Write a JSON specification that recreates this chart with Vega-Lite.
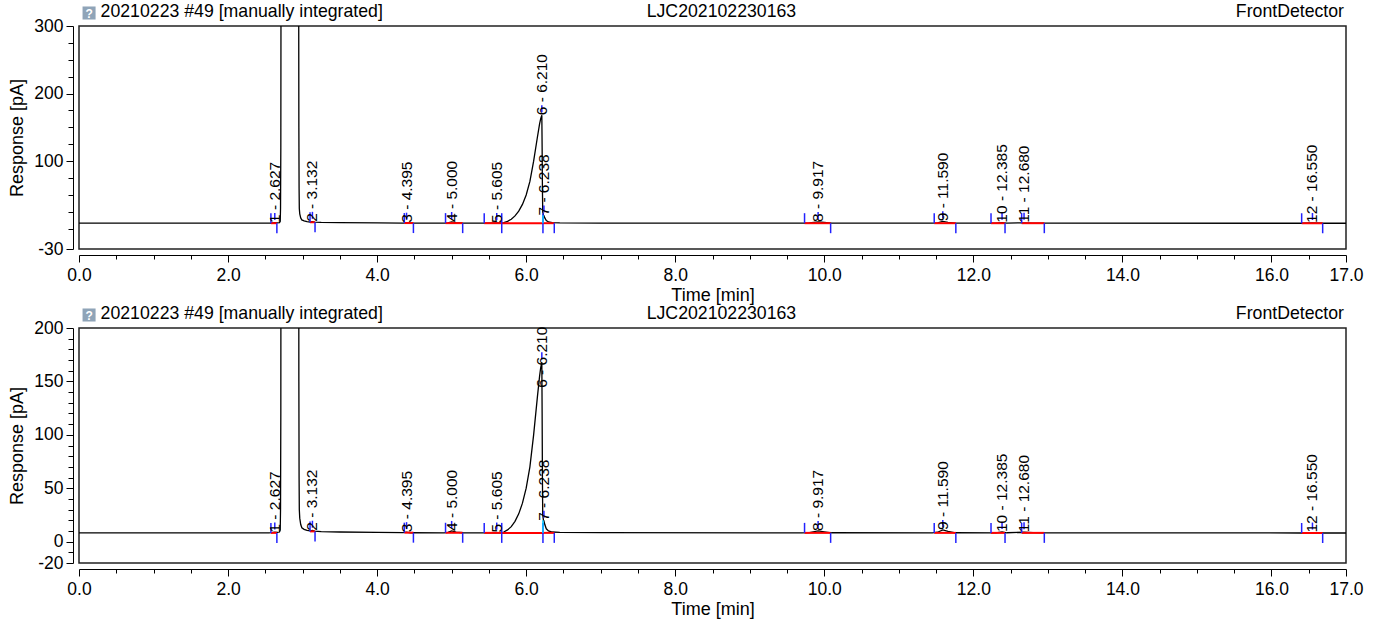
{
  "$schema": "https://vega.github.io/schema/vega-lite/v6.json",
  "background": "white",
  "padding": {"left": 8, "top": 2, "right": 5, "bottom": 5},
  "config": {
    "font": "Liberation Sans",
    "view": {"stroke": "#222222", "strokeWidth": 1.5},
    "axis": {"grid": false, "domainColor": "#000000", "tickColor": "#000000", "labelColor": "#000000", "titleColor": "#000000", "labelFontSize": 17.5, "titleFontSize": 18, "titleFontWeight": "normal", "labelFont": "Liberation Sans", "titleFont": "Liberation Sans", "labelFlush": false, "labelOverlap": false, "tickCount": 200}
  },
  "datasets": {
    "trace": [
      {"t": 0.0, "v": 8.2}, {"t": 1.0, "v": 8.2}, {"t": 2.0, "v": 8.2}, {"t": 2.55, "v": 8.2}, {"t": 2.58, "v": 8.4}, {"t": 2.627, "v": 8.9}, {"t": 2.66, "v": 8.6}, {"t": 2.69, "v": 9.0}, {"t": 2.7, "v": 11}, {"t": 2.704, "v": 30}, {"t": 2.708, "v": 120}, {"t": 2.712, "v": 500}, {"t": 2.72, "v": 2000}, {"t": 2.94, "v": 2000}, {"t": 2.946, "v": 500}, {"t": 2.95, "v": 150}, {"t": 2.953, "v": 60}, {"t": 2.956, "v": 30}, {"t": 2.962, "v": 22}, {"t": 2.975, "v": 16}, {"t": 2.99, "v": 13}, {"t": 3.02, "v": 11.5}, {"t": 3.06, "v": 10.5}, {"t": 3.1, "v": 10}, {"t": 3.132, "v": 10.6}, {"t": 3.16, "v": 9.8}, {"t": 3.25, "v": 9.4}, {"t": 3.5, "v": 9.0}, {"t": 4.0, "v": 8.6}, {"t": 4.35, "v": 8.4}, {"t": 4.395, "v": 8.9}, {"t": 4.45, "v": 8.3}, {"t": 4.9, "v": 8.2}, {"t": 4.95, "v": 8.6}, {"t": 5.0, "v": 10.0}, {"t": 5.06, "v": 9.0}, {"t": 5.15, "v": 8.3}, {"t": 5.45, "v": 8.2}, {"t": 5.605, "v": 8.5}, {"t": 5.672, "v": 8.2}, {"t": 5.7, "v": 9.0}, {"t": 5.75, "v": 11}, {"t": 5.8, "v": 14}, {"t": 5.85, "v": 19}, {"t": 5.9, "v": 26}, {"t": 5.95, "v": 36}, {"t": 6.0, "v": 50}, {"t": 6.05, "v": 70}, {"t": 6.1, "v": 100}, {"t": 6.15, "v": 135}, {"t": 6.18, "v": 155}, {"t": 6.195, "v": 163}, {"t": 6.21, "v": 168}, {"t": 6.214, "v": 120}, {"t": 6.218, "v": 60}, {"t": 6.222, "v": 25}, {"t": 6.232, "v": 20}, {"t": 6.238, "v": 19.5}, {"t": 6.25, "v": 16}, {"t": 6.27, "v": 12}, {"t": 6.3, "v": 10}, {"t": 6.35, "v": 9}, {"t": 6.45, "v": 8.6}, {"t": 7.0, "v": 8.4}, {"t": 9.7, "v": 8.2}, {"t": 9.8, "v": 8.5}, {"t": 9.917, "v": 10}, {"t": 10.0, "v": 9.2}, {"t": 10.1, "v": 8.3}, {"t": 11.45, "v": 8.2}, {"t": 11.52, "v": 8.8}, {"t": 11.59, "v": 11}, {"t": 11.66, "v": 9.5}, {"t": 11.76, "v": 8.3}, {"t": 12.3, "v": 8.2}, {"t": 12.385, "v": 9}, {"t": 12.45, "v": 8.3}, {"t": 12.68, "v": 8.8}, {"t": 12.8, "v": 8.4}, {"t": 13.0, "v": 8.2}, {"t": 16.4, "v": 8.1}, {"t": 16.55, "v": 8.5}, {"t": 16.7, "v": 8.1}, {"t": 17.0, "v": 8.1}
    ],
    "peaks": [
      {"label": "1 - 2.627", "rt": 2.627, "start": 2.575, "end": 2.655, "base": 8.2, "apex": 8.5},
      {"label": "2 - 3.132", "rt": 3.132, "start": 3.1, "end": 3.167, "base": 9.6, "apex": 10.2},
      {"label": "3 - 4.395", "rt": 4.395, "start": 4.365, "end": 4.487, "base": 8.4, "apex": 8.9},
      {"label": "4 - 5.000", "rt": 5.0, "start": 4.918, "end": 5.148, "base": 8.3, "apex": 10},
      {"label": "5 - 5.605", "rt": 5.605, "start": 5.437, "end": 5.672, "base": 8.2, "apex": 8.5},
      {"label": "6 - 6.210", "rt": 6.21, "start": 5.672, "end": 6.225, "base": 8.2, "apex": 168},
      {"label": "7 - 6.238", "rt": 6.238, "start": 6.225, "end": 6.377, "base": 8.2, "apex": 19.5},
      {"label": "8 - 9.917", "rt": 9.917, "start": 9.735, "end": 10.085, "base": 8.2, "apex": 10},
      {"label": "9 - 11.590", "rt": 11.59, "start": 11.475, "end": 11.765, "base": 8.2, "apex": 11},
      {"label": "10 - 12.385", "rt": 12.385, "start": 12.237, "end": 12.425, "base": 8.2, "apex": 9},
      {"label": "11 - 12.680", "rt": 12.68, "start": 12.648, "end": 12.952, "base": 8.2, "apex": 8.8},
      {"label": "12 - 16.550", "rt": 16.55, "start": 16.405, "end": 16.687, "base": 8.1, "apex": 8.5}
    ],
    "one": [{"k": 1}]
  },
  "spacing": 79,
  "bounds": "flush",
  "vconcat": [
    {
      "width": 1267,
      "height": 223,
      "layer": [
        {
          "data": {"name": "trace"},
          "mark": {"type": "line", "clip": true, "color": "#000000", "strokeWidth": 1.3},
          "encoding": {
            "x": {"field": "t", "type": "quantitative", "title": "Time [min]", "scale": {"domain": [0, 17], "nice": false, "zero": false},
              "axis": {"values": [0,0.5,1,1.5,2,2.5,3,3.5,4,4.5,5,5.5,6,6.5,7,7.5,8,8.5,9,9.5,10,10.5,11,11.5,12,12.5,13,13.5,14,14.5,15,15.5,16,16.5,17], "tickCount": 200, "labelExpr": "(datum.value % 2 === 0 || datum.value === 17) ? format(datum.value, '.1f') : ''", "offset": 6, "tickSize": {"condition": {"test": "datum.value % 2 === 0 || datum.value === 17", "value": 7}, "value": 4}, "labelPadding": 4, "titlePadding": 3}},
            "y": {"field": "v", "type": "quantitative", "title": "Response [pA]", "scale": {"domain": [-30, 300], "nice": false, "zero": false},
              "axis": {"values": [-30,0,25,50,75,100,125,150,175,200,225,250,275,300], "tickCount": 200, "labelExpr": "(datum.value === 300 || datum.value === 200 || datum.value === 100 || datum.value === -30) ? (datum.value + '') : ''", "offset": 6, "tickSize": {"condition": {"test": "datum.value === 300 || datum.value === 200 || datum.value === 100 || datum.value === -30", "value": 7}, "value": 5}, "labelPadding": 3, "titlePadding": 7}}
          }
        },
        {
          "data": {"name": "peaks"},
          "mark": {"type": "rule", "color": "#ff0000", "strokeWidth": 2},
          "encoding": {"x": {"field": "start", "type": "quantitative", "title": "Time [min]"}, "x2": {"field": "end"}, "y": {"field": "base", "type": "quantitative", "title": "Response [pA]"}}
        },
        {
          "data": {"name": "peaks"},
          "mark": {"type": "rule", "color": "#2222ff", "strokeWidth": 1.5, "y2Offset": -10},
          "encoding": {"x": {"field": "start", "type": "quantitative", "title": "Time [min]"}, "y": {"field": "base", "type": "quantitative", "title": "Response [pA]"}, "y2": {"field": "base"}}
        },
        {
          "data": {"name": "peaks"},
          "mark": {"type": "rule", "color": "#2222ff", "strokeWidth": 1.5, "y2Offset": 10},
          "encoding": {"x": {"field": "end", "type": "quantitative", "title": "Time [min]"}, "y": {"field": "base", "type": "quantitative", "title": "Response [pA]"}, "y2": {"field": "base"}}
        },
        {
          "data": {"name": "peaks"},
          "mark": {"type": "rule", "color": "#2222ff", "strokeWidth": 1.5, "yOffset": -3, "y2Offset": -10},
          "encoding": {"x": {"field": "rt", "type": "quantitative", "title": "Time [min]"}, "y": {"field": "apex", "type": "quantitative", "title": "Response [pA]"}, "y2": {"field": "apex"}}
        },
        {
          "data": {"name": "one"},
          "mark": {"type": "rule", "color": "#00c8ff", "strokeWidth": 1.5},
          "encoding": {"x": {"datum": 6.225, "type": "quantitative"}, "y": {"datum": 8.2, "type": "quantitative"}, "y2": {"datum": 20}}
        },
        {
          "data": {"name": "peaks"},
          "mark": {"type": "text", "angle": 270, "align": "left", "baseline": "middle", "fontSize": 15.5, "color": "#000000", "font": "Liberation Sans"},
          "encoding": {"x": {"field": "rt", "type": "quantitative", "title": "Time [min]"}, "y": {"field": "apex", "type": "quantitative", "title": "Response [pA]"}, "text": {"field": "label"}}
        },
        {
          "data": {"name": "one"},
          "mark": {"type": "point", "shape": "square", "filled": true, "color": "#8fa4b8", "size": 170, "yOffset": -13, "opacity": 1},
          "encoding": {"x": {"datum": 0.135, "type": "quantitative"}, "y": {"datum": 300, "type": "quantitative"}}
        },
        {
          "data": {"name": "one"},
          "mark": {"type": "text", "text": "?", "color": "#ffffff", "fontSize": 12, "fontWeight": "bold", "align": "center", "baseline": "middle", "dy": -12},
          "encoding": {"x": {"datum": 0.135, "type": "quantitative"}, "y": {"datum": 300, "type": "quantitative"}}
        },
        {
          "data": {"name": "one"},
          "mark": {"type": "text", "text": "20210223 #49 [manually integrated]", "fontSize": 17.7, "align": "left", "baseline": "middle", "dy": -14, "color": "#000000"},
          "encoding": {"x": {"datum": 0.29, "type": "quantitative"}, "y": {"datum": 300, "type": "quantitative"}}
        },
        {
          "data": {"name": "one"},
          "mark": {"type": "text", "text": "LJC202102230163", "fontSize": 17.7, "align": "center", "baseline": "middle", "dy": -14, "color": "#000000"},
          "encoding": {"x": {"datum": 8.62, "type": "quantitative"}, "y": {"datum": 300, "type": "quantitative"}}
        },
        {
          "data": {"name": "one"},
          "mark": {"type": "text", "text": "FrontDetector", "fontSize": 17.7, "align": "right", "baseline": "middle", "dy": -14, "dx": -2, "color": "#000000"},
          "encoding": {"x": {"datum": 17, "type": "quantitative"}, "y": {"datum": 300, "type": "quantitative"}}
        }
      ]
    },
    {
      "width": 1267,
      "height": 235,
      "layer": [
        {
          "data": {"name": "trace"},
          "mark": {"type": "line", "clip": true, "color": "#000000", "strokeWidth": 1.3},
          "encoding": {
            "x": {"field": "t", "type": "quantitative", "title": "Time [min]", "scale": {"domain": [0, 17], "nice": false, "zero": false},
              "axis": {"values": [0,0.5,1,1.5,2,2.5,3,3.5,4,4.5,5,5.5,6,6.5,7,7.5,8,8.5,9,9.5,10,10.5,11,11.5,12,12.5,13,13.5,14,14.5,15,15.5,16,16.5,17], "tickCount": 200, "labelExpr": "(datum.value % 2 === 0 || datum.value === 17) ? format(datum.value, '.1f') : ''", "offset": 6, "tickSize": {"condition": {"test": "datum.value % 2 === 0 || datum.value === 17", "value": 7}, "value": 4}, "labelPadding": 4, "titlePadding": 3}},
            "y": {"field": "v", "type": "quantitative", "title": "Response [pA]", "scale": {"domain": [-20, 200], "nice": false, "zero": false},
              "axis": {"values": [-20,-10,0,10,20,30,40,50,60,70,80,90,100,110,120,130,140,150,160,170,180,190,200], "tickCount": 200, "labelExpr": "(datum.value % 50 === 0 || datum.value === -20) ? (datum.value + '') : ''", "offset": 6, "tickSize": {"condition": {"test": "datum.value % 50 === 0 || datum.value === -20", "value": 7}, "value": 5}, "labelPadding": 3, "titlePadding": 7}}
          }
        },
        {
          "data": {"name": "peaks"},
          "mark": {"type": "rule", "color": "#ff0000", "strokeWidth": 2},
          "encoding": {"x": {"field": "start", "type": "quantitative", "title": "Time [min]"}, "x2": {"field": "end"}, "y": {"field": "base", "type": "quantitative", "title": "Response [pA]"}}
        },
        {
          "data": {"name": "peaks"},
          "mark": {"type": "rule", "color": "#2222ff", "strokeWidth": 1.5, "y2Offset": -10},
          "encoding": {"x": {"field": "start", "type": "quantitative", "title": "Time [min]"}, "y": {"field": "base", "type": "quantitative", "title": "Response [pA]"}, "y2": {"field": "base"}}
        },
        {
          "data": {"name": "peaks"},
          "mark": {"type": "rule", "color": "#2222ff", "strokeWidth": 1.5, "y2Offset": 10},
          "encoding": {"x": {"field": "end", "type": "quantitative", "title": "Time [min]"}, "y": {"field": "base", "type": "quantitative", "title": "Response [pA]"}, "y2": {"field": "base"}}
        },
        {
          "data": {"name": "peaks"},
          "mark": {"type": "rule", "color": "#2222ff", "strokeWidth": 1.5, "yOffset": -3, "y2Offset": -10},
          "encoding": {"x": {"field": "rt", "type": "quantitative", "title": "Time [min]"}, "y": {"field": "apex", "type": "quantitative", "title": "Response [pA]"}, "y2": {"field": "apex"}}
        },
        {
          "data": {"name": "one"},
          "mark": {"type": "rule", "color": "#00c8ff", "strokeWidth": 1.5},
          "encoding": {"x": {"datum": 6.225, "type": "quantitative"}, "y": {"datum": 8.2, "type": "quantitative"}, "y2": {"datum": 20}}
        },
        {
          "data": {"name": "peaks"},
          "transform": [{"calculate": "min(datum.apex, 144)", "as": "ly"}],
          "mark": {"type": "text", "angle": 270, "align": "left", "baseline": "middle", "fontSize": 15.5, "color": "#000000", "font": "Liberation Sans"},
          "encoding": {"x": {"field": "rt", "type": "quantitative", "title": "Time [min]"}, "y": {"field": "ly", "type": "quantitative", "title": "Response [pA]"}, "text": {"field": "label"}}
        },
        {
          "data": {"name": "one"},
          "mark": {"type": "point", "shape": "square", "filled": true, "color": "#8fa4b8", "size": 170, "yOffset": -13, "opacity": 1},
          "encoding": {"x": {"datum": 0.135, "type": "quantitative"}, "y": {"datum": 200, "type": "quantitative"}}
        },
        {
          "data": {"name": "one"},
          "mark": {"type": "text", "text": "?", "color": "#ffffff", "fontSize": 12, "fontWeight": "bold", "align": "center", "baseline": "middle", "dy": -12},
          "encoding": {"x": {"datum": 0.135, "type": "quantitative"}, "y": {"datum": 200, "type": "quantitative"}}
        },
        {
          "data": {"name": "one"},
          "mark": {"type": "text", "text": "20210223 #49 [manually integrated]", "fontSize": 17.7, "align": "left", "baseline": "middle", "dy": -14, "color": "#000000"},
          "encoding": {"x": {"datum": 0.29, "type": "quantitative"}, "y": {"datum": 200, "type": "quantitative"}}
        },
        {
          "data": {"name": "one"},
          "mark": {"type": "text", "text": "LJC202102230163", "fontSize": 17.7, "align": "center", "baseline": "middle", "dy": -14, "color": "#000000"},
          "encoding": {"x": {"datum": 8.62, "type": "quantitative"}, "y": {"datum": 200, "type": "quantitative"}}
        },
        {
          "data": {"name": "one"},
          "mark": {"type": "text", "text": "FrontDetector", "fontSize": 17.7, "align": "right", "baseline": "middle", "dy": -14, "dx": -2, "color": "#000000"},
          "encoding": {"x": {"datum": 17, "type": "quantitative"}, "y": {"datum": 200, "type": "quantitative"}}
        }
      ]
    }
  ]
}
